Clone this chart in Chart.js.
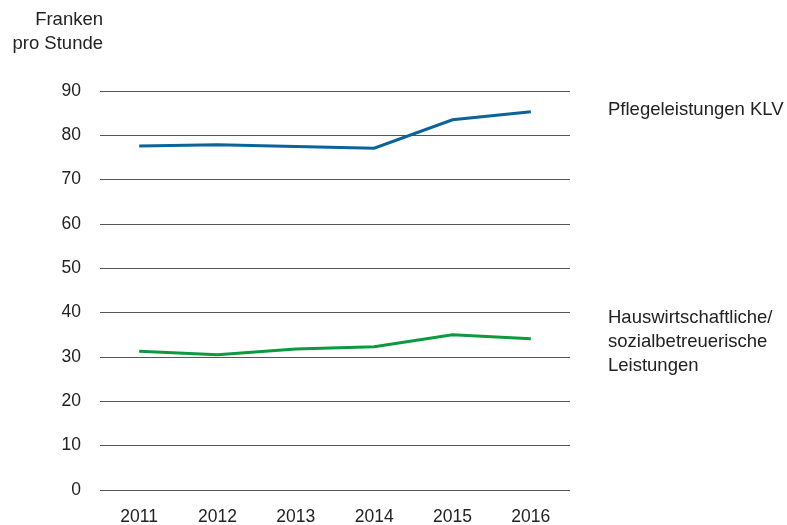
<!DOCTYPE html>
<html>
<head>
<meta charset="utf-8">
<script src="https://cdn.jsdelivr.net/npm/chart.js@4"></script>
<style>
  html, body { margin: 0; padding: 0; background: #fff; }
  #wrap { width: 787px; height: 525px; }
</style>
</head>
<body>
<div id="wrap"><canvas id="chart"></canvas></div>
<script>
// Data
const years = ['2011', '2012', '2013', '2014', '2015', '2016'];
const pflege = [77.6, 77.9, 77.5, 77.1, 83.5, 85.3];
const hauswirtschaft = [31.3, 30.5, 31.8, 32.3, 35.0, 34.1];
const yTicks = [0, 10, 20, 30, 40, 50, 60, 70, 80, 90];

const unitLines = ['Franken', 'pro Stunde'];
const pflegeLabel = ['Pflegeleistungen KLV'];
const hausLabel = ['Hauswirtschaftliche/', 'sozialbetreuerische', 'Leistungen'];

const FONT = '"Liberation Sans", Arial, sans-serif';
const TEXT = '#222';

// Draw the axis title and the series labels next to the lines
const textPlugin = {
    id: 'sideText',
    afterDraw(chart) {
        const ctx = chart.ctx;
        ctx.save();
        ctx.font = '18.5px ' + FONT;
        ctx.fillStyle = TEXT;
        ctx.textBaseline = 'middle';

        ctx.textAlign = 'right';
        unitLines.forEach((t, i) => ctx.fillText(t, 103, 20 + i * 24));

        ctx.textAlign = 'left';
        pflegeLabel.forEach((t, i) => ctx.fillText(t, 608, 110 + i * 24));
        hausLabel.forEach((t, i) => ctx.fillText(t, 608, 318 + i * 24));
        ctx.restore();
    }
};

new Chart(document.getElementById('chart'), {
    type: 'line',
    data: {
        labels: years,
        datasets: [
            {
                label: 'Pflegeleistungen KLV',
                data: pflege,
                borderColor: '#0a6498',
                borderWidth: 3,
                pointRadius: 0,
                tension: 0
            },
            {
                label: 'Hauswirtschaftliche/sozialbetreuerische Leistungen',
                data: hauswirtschaft,
                borderColor: '#0b9a3f',
                borderWidth: 3,
                pointRadius: 0,
                tension: 0
            }
        ]
    },
    options: {
        responsive: true,
        maintainAspectRatio: false,
        animation: false,
        layout: { padding: { left: 0, right: 217, top: 91, bottom: 0 } },
        plugins: {
            legend: { display: false },
            tooltip: { enabled: false }
        },
        scales: {
            x: {
                offset: true,
                grid: { display: false, drawTicks: false },
                border: { display: false },
                ticks: { color: TEXT, font: { family: FONT, size: 17.5 }, padding: 17, maxRotation: 0 },
                afterFit(scale) { scale.height = 35; }
            },
            y: {
                min: 0,
                max: 90,
                afterBuildTicks(scale) { scale.ticks = yTicks.map(v => ({ value: v })); },
                grid: { color: '#555', lineWidth: 1, drawTicks: false },
                border: { display: false },
                ticks: { color: TEXT, font: { family: FONT, size: 17.5 }, padding: 19 },
                afterFit(scale) { scale.width = 100; }
            }
        }
    },
    plugins: [textPlugin]
});
</script>
</body>
</html>
